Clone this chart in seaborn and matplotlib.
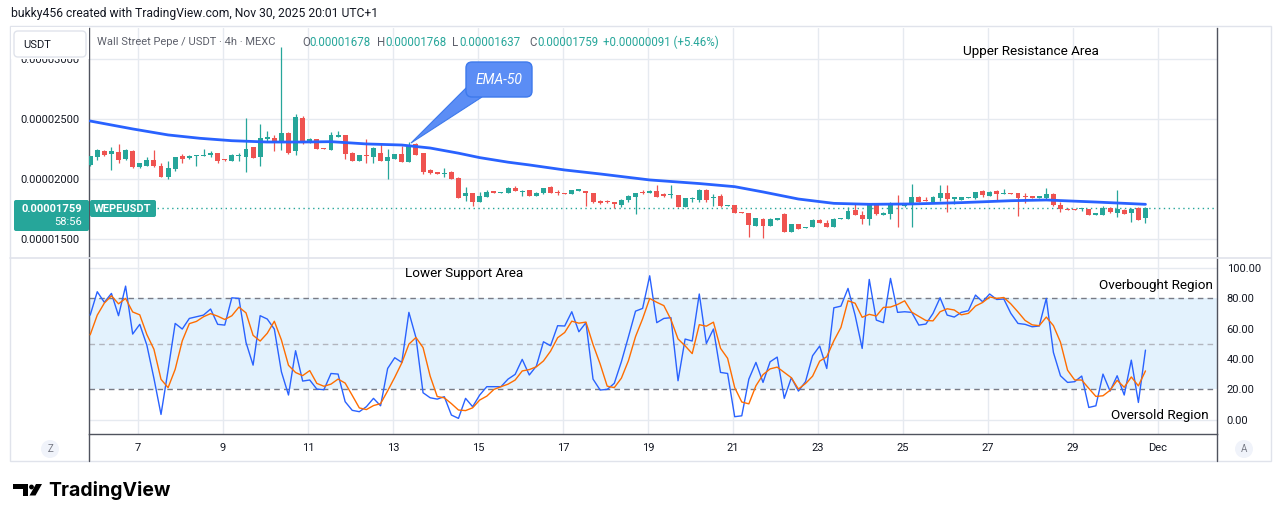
import numpy as np
import pandas as pd
import matplotlib
matplotlib.use('Agg')
import matplotlib.pyplot as plt
import seaborn as sns
from matplotlib.patches import FancyBboxPatch, Polygon, Rectangle, Circle
from matplotlib.ticker import FuncFormatter

# ---------------- data (prices in units of 1e-8 USDT, 4h candles) ----------------
opens = [2117, 2186, 2233, 2211, 2225, 2167, 2233, 2097, 2111, 2158,
         2108, 2019, 2081, 2192, 2172, 2195, 2197, 2203, 2214, 2164,
         2153, 2194, 2186, 2264, 2186, 2331, 2342, 2319, 2383, 2236,
         2506, 2303, 2331, 2258, 2242, 2356, 2367, 2219, 2153, 2200,
         2186, 2219, 2153, 2169, 2208, 2144, 2292, 2214, 2075, 2058,
         2042, 2061, 2011, 1861, 1886, 1811, 1853, 1894, 1886, 1886,
         1928, 1894, 1908, 1861, 1881, 1936, 1894, 1883, 1872, 1906,
         1900, 1886, 1819, 1814, 1808, 1781, 1825, 1853, 1889, 1886,
         1900, 1869, 1867, 1864, 1769, 1831, 1825, 1908, 1842, 1858,
         1778, 1781, 1722, 1719, 1608, 1667, 1611, 1664, 1706, 1561,
         1625, 1594, 1597, 1658, 1636, 1603, 1667, 1669, 1742, 1703,
         1667, 1783, 1706, 1708, 1792, 1772, 1781, 1853, 1825, 1808,
         1842, 1881, 1839, 1828, 1844, 1844, 1903, 1858, 1900, 1878,
         1883, 1881, 1858, 1853, 1847, 1842, 1875, 1783, 1750, 1750,
         1750, 1747, 1706, 1703, 1756, 1717, 1742, 1719, 1758, 1678]
highs = [2195, 2253, 2242, 2269, 2289, 2250, 2242, 2136, 2186, 2242,
         2136, 2150, 2186, 2208, 2197, 2203, 2250, 2236, 2214, 2167,
         2208, 2214, 2506, 2269, 2458, 2400, 2369, 3100, 2394, 2542,
         2525, 2339, 2336, 2262, 2389, 2403, 2367, 2228, 2200, 2331,
         2269, 2297, 2250, 2211, 2275, 2308, 2303, 2219, 2083, 2061,
         2089, 2067, 2014, 1936, 1886, 1894, 1908, 1900, 1894, 1936,
         1942, 1908, 1908, 1894, 1928, 1942, 1908, 1886, 1908, 1911,
         1900, 1886, 1825, 1822, 1811, 1831, 1864, 1886, 1908, 1908,
         1950, 1886, 1950, 1869, 1844, 1853, 1914, 1914, 1875, 1875,
         1783, 1783, 1725, 1719, 1678, 1672, 1672, 1675, 1714, 1625,
         1628, 1603, 1664, 1664, 1658, 1672, 1678, 1764, 1797, 1736,
         1797, 1792, 1725, 1811, 1867, 1792, 1958, 1861, 1847, 1856,
         1950, 1950, 1853, 1853, 1853, 1894, 1908, 1900, 1908, 1914,
         1886, 1881, 1881, 1858, 1858, 1928, 1881, 1811, 1756, 1753,
         1756, 1750, 1714, 1775, 1764, 1908, 1747, 1758, 1764, 1768]
lows = [2110, 2158, 2192, 2075, 2136, 2158, 2094, 2092, 2111, 2097,
        2014, 2000, 2069, 2131, 2167, 2108, 2192, 2181, 2136, 2150,
        2153, 2153, 2061, 2172, 2108, 2319, 2233, 2242, 2208, 2200,
        2292, 2303, 2250, 2250, 2242, 2353, 2164, 2153, 2150, 2131,
        2136, 2153, 2000, 2167, 2144, 2144, 2200, 2039, 2039, 2042,
        2014, 2000, 1844, 1819, 1775, 1811, 1853, 1883, 1883, 1886,
        1903, 1861, 1858, 1861, 1875, 1886, 1867, 1872, 1872, 1903,
        1775, 1803, 1789, 1800, 1756, 1769, 1811, 1708, 1878, 1881,
        1850, 1853, 1844, 1764, 1764, 1811, 1811, 1811, 1775, 1764,
        1775, 1714, 1714, 1519, 1608, 1511, 1611, 1661, 1561, 1561,
        1581, 1589, 1597, 1636, 1597, 1603, 1664, 1669, 1703, 1625,
        1617, 1700, 1700, 1667, 1603, 1769, 1603, 1808, 1817, 1808,
        1819, 1728, 1789, 1828, 1842, 1833, 1853, 1856, 1819, 1875,
        1875, 1694, 1797, 1842, 1842, 1836, 1778, 1728, 1739, 1742,
        1731, 1703, 1700, 1703, 1719, 1686, 1711, 1644, 1658, 1637]
closes = [2192, 2242, 2200, 2236, 2158, 2242, 2097, 2131, 2158, 2111,
          2019, 2089, 2181, 2169, 2192, 2197, 2200, 2219, 2150, 2156,
          2200, 2200, 2250, 2178, 2339, 2350, 2319, 2381, 2214, 2514,
          2297, 2331, 2250, 2253, 2367, 2361, 2208, 2153, 2197, 2194,
          2261, 2153, 2186, 2208, 2144, 2283, 2200, 2061, 2053, 2044,
          2053, 2000, 1844, 1886, 1811, 1858, 1894, 1889, 1892, 1922,
          1903, 1903, 1858, 1886, 1922, 1886, 1881, 1875, 1908, 1908,
          1881, 1811, 1797, 1806, 1792, 1825, 1858, 1881, 1881, 1903,
          1850, 1864, 1872, 1769, 1844, 1839, 1908, 1825, 1850, 1775,
          1781, 1719, 1717, 1617, 1672, 1608, 1667, 1669, 1561, 1625,
          1581, 1600, 1658, 1636, 1597, 1667, 1672, 1731, 1703, 1667,
          1792, 1708, 1711, 1792, 1783, 1783, 1853, 1808, 1819, 1853,
          1881, 1833, 1844, 1850, 1850, 1889, 1869, 1892, 1875, 1883,
          1878, 1844, 1850, 1847, 1853, 1875, 1783, 1750, 1744, 1744,
          1753, 1703, 1711, 1756, 1725, 1750, 1711, 1750, 1658, 1759]

# EMA-50: (candle index, value)
ema_idx = [0, 6, 11, 15.5, 20, 25, 30, 34, 39, 44, 48, 52, 55, 59, 62, 67,
           72, 79, 86, 91, 95, 100, 105, 110, 116, 123, 130, 135, 142, 149]
ema_val = [2483, 2417, 2367, 2339, 2319, 2308, 2308, 2311, 2292, 2283, 2258,
           2215, 2178, 2140, 2117, 2075, 2042, 1992, 1962, 1936, 1892, 1833,
           1797, 1789, 1792, 1803, 1819, 1825, 1808, 1789]

# Stochastic %K (two values before the visible window, then one per candle)
k_before = [45.4, 53.6]
k_line = [69.0, 84.4, 77.4, 83.3, 68.6, 88.1, 56.5, 62.9, 49.2, 27.3,
          3.5, 32.7, 63.5, 59.8, 66.8, 67.9, 69.0, 73.0, 62.9, 62.4,
          80.4, 80.0, 51.0, 36.0, 68.6, 66.4, 59.8, 31.6, 16.3, 45.5,
          25.5, 26.2, 20.2, 19.8, 30.5, 30.1, 11.9, 6.2, 5.3, 8.6,
          14.1, 9.2, 33.8, 40.9, 37.8, 70.8, 54.1, 17.8, 14.5, 13.6,
          15.2, 3.1, 0.9, 14.1, 8.6, 16.3, 21.8, 21.8, 21.8, 26.8,
          29.9, 39.8, 29.5, 35.4, 51.4, 48.8, 62.0, 61.8, 71.2, 58.0,
          64.0, 26.8, 19.6, 20.0, 24.0, 38.2, 54.7, 71.6, 73.4, 94.9,
          64.0, 66.8, 67.3, 25.7, 53.2, 51.9, 82.9, 50.3, 59.8, 31.2,
          30.5, 2.0, 2.6, 26.8, 37.8, 24.6, 38.2, 41.3, 14.1, 27.7,
          18.9, 25.1, 42.2, 48.6, 33.8, 73.8, 74.9, 86.6, 69.0, 47.0,
          92.5, 65.7, 64.0, 93.2, 70.8, 71.2, 70.8, 62.4, 63.1, 70.1,
          80.4, 69.0, 67.7, 70.8, 71.9, 82.2, 77.8, 82.9, 79.3, 79.6,
          70.1, 63.5, 62.9, 61.3, 61.8, 80.0, 44.4, 29.0, 24.6, 25.1,
          28.8, 8.1, 9.2, 30.1, 18.9, 29.0, 16.3, 39.3, 11.4, 45.9]

day_labels = ['7', '9', '11', '13', '15', '17', '19', '21', '23', '25', '27', '29', 'Dec']
day_numbers = [7, 9, 11, 13, 15, 17, 19, 21, 23, 25, 27, 29, 31]
price_ticks = [1500, 2000, 2500, 3000]
osc_ticks = [0, 20, 40, 60, 80, 100]

# ---------------- prep ----------------
SCALE = 1e-8
o = np.array(opens) * SCALE
h = np.array(highs) * SCALE
l = np.array(lows) * SCALE
c = np.array(closes) * SCALE
idx = np.arange(len(c))
k_full = pd.Series(k_before + k_line)
d_line = k_full.rolling(3).mean().to_numpy()[len(k_before):]
tick_pos = [6.75 + (d - 7) * 6 for d in day_numbers]

GREEN = '#26a69a'
RED = '#ef5350'
BLUE = '#2962ff'
ORANGE = '#ff6d00'
GRID = '#e6eaf0'
TXT = '#131722'
FRAME = '#50535e'

W, H = 1281, 522
sns.set_theme(style='white')
plt.rcParams['font.family'] = ['Roboto', 'DejaVu Sans']

fig = plt.figure(figsize=(W / 100, H / 100), dpi=100)
fig.patch.set_facecolor('white')


def rect(x0, y0, x1, y1):
    return [x0 / W, 1 - y1 / H, (x1 - x0) / W, (y1 - y0) / H]


XL = (-0.125, 159.1)

# ---------------- price panel ----------------
ax = fig.add_axes(rect(89.3, 28, 1217, 257))
ax.set_xlim(*XL)
ax.set_ylim(1350 * SCALE, 3258 * SCALE)
for x in tick_pos:
    ax.axvline(x, color=GRID, lw=1, zorder=0)
for y in price_ticks:
    ax.axhline(y * SCALE, color=GRID, lw=1, zorder=0)

cols = np.where(c >= o, GREEN, RED)
ax.vlines(idx, l, h, colors=cols, lw=0.9, zorder=3)
body_h = np.maximum(np.abs(c - o), 11 * SCALE)
body_b = np.where(np.abs(c - o) < 11 * SCALE, (o + c) / 2 - body_h / 2, np.minimum(o, c))
ax.bar(idx, body_h, bottom=body_b, width=0.7, color=cols, linewidth=0, zorder=4)

sns.lineplot(x=ema_idx, y=np.array(ema_val) * SCALE, ax=ax, color=BLUE, lw=2.0,
             legend=False, zorder=5)
ax.axhline(c[-1], color=GREEN, lw=1, ls=(0, (1, 2.5)), zorder=2)

ax.set_yticks([v * SCALE for v in price_ticks])
ax.yaxis.set_major_formatter(FuncFormatter(lambda v, p: f'{v:.8f}'))
ax.tick_params(axis='y', length=0, pad=7, labelsize=8, labelcolor=TXT)
ax.set_xticks([])
ax.set_xlabel('')
ax.set_ylabel('')
for s in ['top', 'bottom']:
    ax.spines[s].set_visible(False)
for s in ['left', 'right']:
    ax.spines[s].set_color(FRAME)
    ax.spines[s].set_linewidth(1)

# ---------------- oscillator panel ----------------
osc = fig.add_axes(rect(89.3, 257, 1217, 434))
osc.set_xlim(*XL)
osc.set_ylim(-9.4, 107.3)
for x in tick_pos:
    osc.axvline(x, color=GRID, lw=1, zorder=0)
for y in [0, 40, 60, 100]:
    osc.axhline(y, color=GRID, lw=1, zorder=0)
osc.axhspan(20, 80, color='#e3f2fd', zorder=0.5, lw=0)
osc.axhline(80, color='#787b86', lw=1, ls=(0, (4, 3)), zorder=1)
osc.axhline(20, color='#787b86', lw=1, ls=(0, (4, 3)), zorder=1)
osc.axhline(50, color='#b2b5be', lw=1, ls=(0, (4, 3)), zorder=1)

sns.lineplot(x=idx, y=k_line, ax=osc, color=BLUE, lw=1.0, legend=False, zorder=3)
sns.lineplot(x=idx, y=d_line, ax=osc, color=ORANGE, lw=1.0, legend=False, zorder=4)

osc.yaxis.tick_right()
osc.set_yticks(osc_ticks)
osc.set_yticklabels([f'{v:.2f}' for v in osc_ticks])
osc.tick_params(axis='y', length=0, pad=7, labelsize=8, labelcolor=TXT)
osc.set_xticks(tick_pos)
osc.set_xticklabels(day_labels)
osc.tick_params(axis='x', length=0, pad=6.5, labelsize=8, labelcolor=TXT)
osc.set_xlabel('')
osc.set_ylabel('')
osc.spines['top'].set_visible(False)
for s in ['left', 'right', 'bottom']:
    osc.spines[s].set_color(FRAME)
    osc.spines[s].set_linewidth(1)

# ---------------- overlay (pixel coordinates) ----------------
ov = fig.add_axes([0, 0, 1, 1])
ov.set_xlim(0, W)
ov.set_ylim(H, 0)
ov.axis('off')
ov.patch.set_alpha(0)

ov.add_patch(Rectangle((10, 26), 1261, 435, fill=False, ec='#e0e3eb', lw=1))
ov.plot([10, 1271], [257.5, 257.5], color='#e0e3eb', lw=1.2)
ov.plot([89.3, 89.3], [434, 461], color=FRAME, lw=1)
ov.plot([1217, 1217], [434, 461], color=FRAME, lw=1)

ov.text(11, 13, 'bukky456 created with TradingView.com, Nov 30, 2025 20:01 UTC+1',
        fontsize=8.7, color=TXT, va='center', ha='left')

# header strip over the left price scale hides the top tick label partly
ov.add_patch(Rectangle((10.5, 26.5), 78, 32.5, fc='white', ec='none', zorder=4))
ov.add_patch(FancyBboxPatch((14, 31), 72, 26, boxstyle='round,pad=0,rounding_size=4',
                            fc='white', ec='#e0e3eb', lw=1, zorder=5))
ov.text(23, 44.5, 'USDT', fontsize=8, color=TXT, va='center', ha='left', zorder=6)

ov.text(97, 42, 'Wall Street Pepe / USDT · 4h · MEXC', fontsize=8, color='#5d606b',
        va='center', ha='left')
header = [(302, 'O', '#5d606b'), (309, '0.00001678', GREEN),
          (377, 'H', '#5d606b'), (385, '0.00001768', GREEN),
          (452, 'L', '#5d606b'), (459, '0.00001637', GREEN),
          (529, 'C', '#5d606b'), (537, '0.00001759', GREEN),
          (603, '+0.00000091 (+5.46%)', GREEN)]
for x, s, col in header:
    ov.text(x, 42, s, fontsize=8.3, color=col, va='center', ha='left')

# current price labels
ov.add_patch(FancyBboxPatch((14, 200), 75, 31, boxstyle='round,pad=0,rounding_size=2',
                            fc=GREEN, ec='none', zorder=5))
ov.text(82, 208.5, '0.00001759', fontsize=8, color='white', fontweight='bold',
        va='center', ha='right', zorder=6)
ov.text(82, 222, '58:56', fontsize=8, color='white', va='center', ha='right', zorder=6)
ov.add_patch(FancyBboxPatch((90, 200), 66, 17, boxstyle='round,pad=0,rounding_size=2',
                            fc=GREEN, ec='none', zorder=5))
ov.text(123, 208.5, 'WEPEUSDT', fontsize=8, color='white', fontweight='bold',
        va='center', ha='center', zorder=6)

# EMA-50 callout
ov.add_patch(Polygon([(411, 143), (468, 86), (482, 97)], closed=True,
                     fc='#5b8df5', ec='#3d79ec', lw=0.8, zorder=6))
ov.add_patch(FancyBboxPatch((466, 62), 66, 35, boxstyle='round,pad=0,rounding_size=6',
                            fc='#5b8df5', ec='#3d79ec', lw=1, zorder=7))
ov.text(499, 80, 'EMA-50', fontsize=10, color='white', style='italic',
        va='center', ha='center', zorder=8)

# annotations
ov.text(1031, 51, 'Upper Resistance Area', fontsize=9.7, color='black', va='center', ha='center')
ov.text(464, 274, 'Lower Support Area', fontsize=9.7, color='black', va='center', ha='center')
ov.text(1213, 286, 'Overbought Region', fontsize=9.7, color='black', va='center', ha='right')
ov.text(1209, 416, 'Oversold Region', fontsize=9.7, color='black', va='center', ha='right')

# Z / A buttons
for cx, s in [(50, 'Z'), (1244, 'A')]:
    ov.add_patch(Circle((cx, 449), 9, fc='#f0f3fa', ec='none'))
    ov.text(cx, 449.5, s, fontsize=7, color='#787b86', va='center', ha='center')

# footer logo
ov.add_patch(Rectangle((12.7, 484), 15.6, 5.3, fc='black', ec='none'))
ov.add_patch(Rectangle((22.7, 484), 5.6, 11.5, fc='black', ec='none'))
ov.add_patch(Circle((31.5, 487), 2.4, fc='black', ec='none'))
ov.add_patch(Polygon([(36, 484), (42, 484), (35.5, 495.5), (29.5, 495.5)], closed=True,
                     fc='black', ec='none'))
ov.text(48, 490.5, 'TradingView', fontsize=14, fontweight='bold', color='black',
        family=['Inter', 'DejaVu Sans'], va='center', ha='left')

fig.savefig('out.png', dpi=100, facecolor='white')
